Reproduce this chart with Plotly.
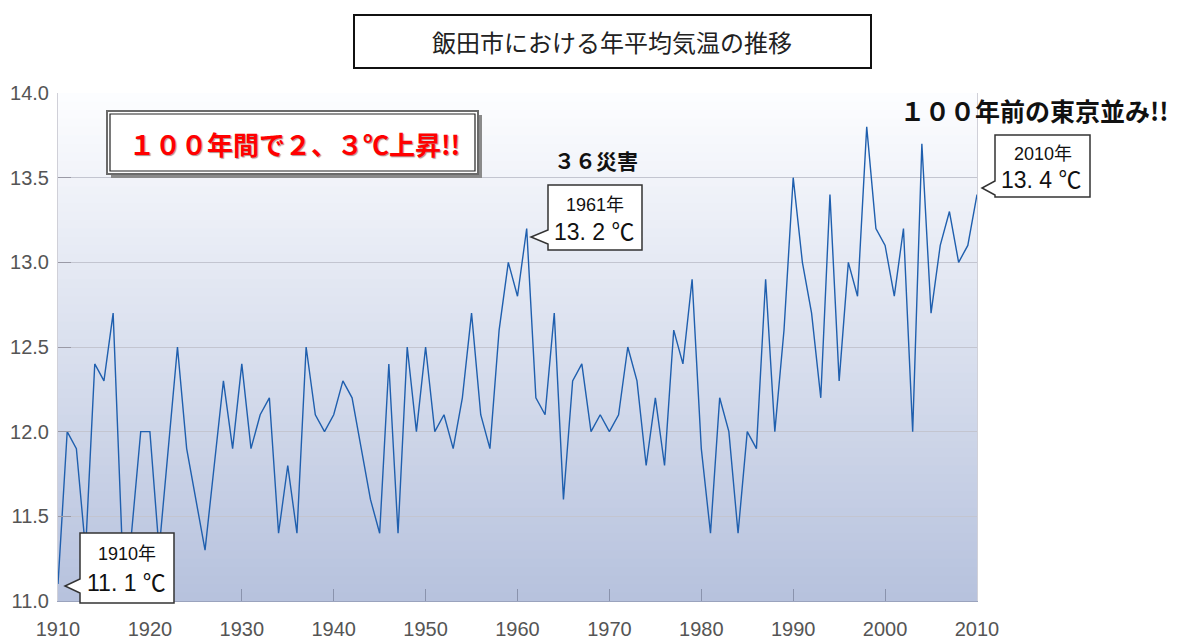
import plotly.graph_objects as go

# ---------------- data ----------------
years = list(range(1910, 2011))
temps = [
    11.1, 12.0, 11.9, 11.3, 12.4, 12.3, 12.7, 11.3, 11.4, 12.0,
    12.0, 11.3, 11.9, 12.5, 11.9, 11.6, 11.3, 11.8, 12.3, 11.9,
    12.4, 11.9, 12.1, 12.2, 11.4, 11.8, 11.4, 12.5, 12.1, 12.0,
    12.1, 12.3, 12.2, 11.9, 11.6, 11.4, 12.4, 11.4, 12.5, 12.0,
    12.5, 12.0, 12.1, 11.9, 12.2, 12.7, 12.1, 11.9, 12.6, 13.0,
    12.8, 13.2, 12.2, 12.1, 12.7, 11.6, 12.3, 12.4, 12.0, 12.1,
    12.0, 12.1, 12.5, 12.3, 11.8, 12.2, 11.8, 12.6, 12.4, 12.9,
    11.9, 11.4, 12.2, 12.0, 11.4, 12.0, 11.9, 12.9, 12.0, 12.6,
    13.5, 13.0, 12.7, 12.2, 13.4, 12.3, 13.0, 12.8, 13.8, 13.2,
    13.1, 12.8, 13.2, 12.0, 13.7, 12.7, 13.1, 13.3, 13.0, 13.1,
    13.4,
]
x_ticks = list(range(1910, 2011, 10))
y_ticks = [11.0, 11.5, 12.0, 12.5, 13.0, 13.5, 14.0]

title_text = "飯田市における年平均気温の推移"
headline_text = "１００年間で２、３℃上昇!!"
note_1961 = "３６災害"
note_2010 = "１００年前の東京並み!!"
callouts = [  # (year label, value label)
    ("1910年", "11. 1 ℃"),
    ("1961年", "13. 2 ℃"),
    ("2010年", "13. 4 ℃"),
]

# ---------------- layout helpers (pixel -> paper) ----------------
FW, FH = 1177, 642
PL, PT, PR, PB = 58, 93, 977, 601
PW, PH = PR - PL, PB - PT


def px(x):
    return (x - PL) / PW


def py(y):
    return (PB - y) / PH


NUM = "Liberation Sans, Arial, Noto Sans CJK JP"
CJK = "Noto Sans CJK JP"

fig = go.Figure()
fig.add_trace(go.Scatter(
    x=years, y=temps, mode="lines",
    line=dict(color="#1f5fae", width=1.4),
    hoverinfo="x+y", showlegend=False,
))

shapes = []
# gradient background of plot area
N = 60
top_c = (253, 253, 255)
bot_c = (182, 194, 221)
for i in range(N):
    t = (i + 0.5) / N  # 0 bottom -> 1 top
    c = tuple(int(round(bot_c[k] + (top_c[k] - bot_c[k]) * t)) for k in range(3))
    shapes.append(dict(
        type="rect", xref="x domain", yref="y domain",
        x0=0, x1=1, y0=i / N, y1=min(1, (i + 1) / N + 0.003),
        fillcolor=f"rgb{c}", line=dict(width=0), layer="below",
    ))

# title box
shapes.append(dict(type="rect", xref="paper", yref="paper",
                   x0=px(354), x1=px(871), y0=py(68), y1=py(15),
                   fillcolor="white", line=dict(color="#111", width=2), layer="above"))

# headline box with shadow and double frame
shapes.append(dict(type="rect", xref="paper", yref="paper",
                   x0=px(111), x1=px(482), y0=py(178), y1=py(115),
                   fillcolor="#8a8a8a", line=dict(width=0), layer="above"))
shapes.append(dict(type="rect", xref="paper", yref="paper",
                   x0=px(107), x1=px(478), y0=py(174), y1=py(111),
                   fillcolor="white", line=dict(color="#6a6a6a", width=2), layer="above"))
shapes.append(dict(type="rect", xref="paper", yref="paper",
                   x0=px(110), x1=px(475), y0=py(171), y1=py(114),
                   fillcolor="white", line=dict(color="#222", width=1.2), layer="above"))


def callout_path(L, R, T, B, n1, n2, tx, ty):
    pts = [(L, T), (R, T), (R, B), (L, B), (L, n2), (tx, ty), (L, n1)]
    s = "M " + " L ".join(f"{px(a):.5f},{py(b):.5f}" for a, b in pts) + " Z"
    return s


callout_boxes = [
    (80, 174, 533, 603, 579, 593, 65, 586),
    (548, 642, 185, 250, 230, 244, 531, 237),
    (995, 1090, 135, 197, 181, 195, 982, 188),
]
for box in callout_boxes:
    shapes.append(dict(type="path", xref="paper", yref="paper",
                       path=callout_path(*box), fillcolor="white",
                       line=dict(color="#333", width=1.5), layer="above"))

annotations = []


def label(xp, yp, text, font):
    annotations.append(dict(xref="paper", yref="paper", x=px(xp), y=py(yp),
                            xanchor="center", yanchor="middle",
                            text=text, showarrow=False, font=font))


label(612, 42, title_text, dict(family=CJK, size=24, color="#222"))
label(294, 143, headline_text,
      dict(family=CJK, size=26, color="#ff0000", weight="bold",
           shadow="1px 1px 1px rgba(80,0,0,0.45)"))
label(596, 160, note_1961, dict(family=CJK, size=21, color="#111", weight="bold"))
label(1034, 110, note_2010, dict(family=CJK, size=25, color="#111", weight="bold"))

for (yl, vl), box in zip(callouts, callout_boxes):
    L, R, T, B = box[:4]
    cx = (L + R) / 2
    h = B - T
    label(cx, T + h * 0.30, yl, dict(family=NUM, size=18, color="#111"))
    label(cx - 1, T + h * 0.72, vl, dict(family=NUM, size=23, color="#111"))

fig.update_layout(
    width=FW, height=FH,
    margin=dict(l=PL, r=FW - PR, t=PT, b=FH - PB, pad=0, autoexpand=False),
    paper_bgcolor="white", plot_bgcolor="rgba(0,0,0,0)",
    shapes=shapes, annotations=annotations,
    showlegend=False,
)
fig.update_xaxes(
    range=[1910, 2010], tickvals=x_ticks, ticktext=[str(v) for v in x_ticks],
    ticks="inside", ticklen=12, tickcolor="#8a93ad", tickwidth=1,
    showgrid=False, zeroline=False, showline=True, linecolor="#9aa3bd", linewidth=1,
    tickfont=dict(family=NUM, size=20, color="#555"),
    ticklabelstandoff=10, automargin=False,
)
fig.update_yaxes(
    range=[11.0, 14.0], tickvals=y_ticks, ticktext=[f"{v:.1f}" for v in y_ticks],
    ticks="inside", ticklen=13, tickcolor="#9a9aa6", tickwidth=1,
    showgrid=True, gridcolor="#c3c5d0", gridwidth=1, zeroline=False,
    showline=True, linecolor="#d0d0d8", linewidth=1, mirror=True,
    tickfont=dict(family=NUM, size=20, color="#555"),
    ticklabelstandoff=4, automargin=False,
)

fig.write_html(
    "out.html",
    config={"displayModeBar": False},
    post_script="document.body.style.margin='0';document.body.style.overflow='hidden';",
)
